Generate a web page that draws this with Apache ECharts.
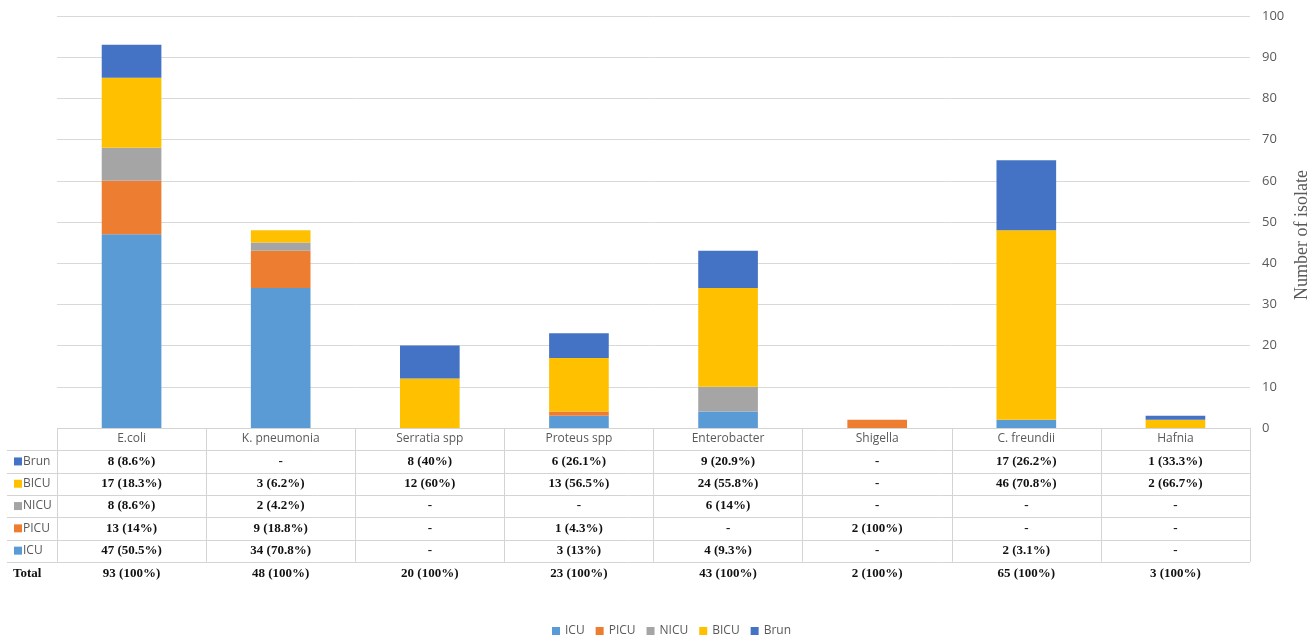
<!DOCTYPE html>
<html>
<head>
<meta charset="utf-8">
<script src="https://cdn.jsdelivr.net/npm/echarts@6/dist/echarts.min.js"></script>
<style>
  html, body { margin: 0; padding: 0; background: #fff; }
  #chart { width: 1315px; height: 638px; }
</style>
</head>
<body>
<div id="chart"></div>
<script>
// Isolates per organism, split by ward
const categories = ['E.coli', 'K. pneumonia', 'Serratia spp', 'Proteus spp', 'Enterobacter', 'Shigella', 'C. freundii', 'Hafnia'];
const icu  = [47, 34, 0, 3, 4, 0, 2, 0];
const picu = [13, 9, 0, 1, 0, 2, 0, 0];
const nicu = [8, 2, 0, 0, 6, 0, 0, 0];
const bicu = [17, 3, 12, 13, 24, 0, 46, 2];
const brun = [8, 0, 8, 6, 9, 0, 17, 1];
const totals = [93, 48, 20, 23, 43, 2, 65, 3];

// Share of each organism's total (%), as printed in the table
const icuPct  = ['50.5', '70.8', null, '13', '9.3', null, '3.1', null];
const picuPct = ['14', '18.8', null, '4.3', null, '100', null, null];
const nicuPct = ['8.6', '4.2', null, null, '14', null, null, null];
const bicuPct = ['18.3', '6.2', '60', '56.5', '55.8', null, '70.8', '66.7'];
const brunPct = ['8.6', null, '40', '26.1', '20.9', null, '26.2', '33.3'];

const wardNames = ['ICU', 'PICU', 'NICU', 'BICU', 'Brun'];
const colors = {ICU: '#5B9BD5', PICU: '#ED7D31', NICU: '#A5A5A5', BICU: '#FFC000', Brun: '#4472C4'};

const GRID = {left: 57, right: 65, top: 16, bottom: 210};
const ROW_H = 22.3;
const TABLE_TOP = 638 - GRID.bottom;
const LINE_COLOR = '#d4d4d4';
const TEXT_GRAY = '#595959';

const chart = echarts.init(document.getElementById('chart'), null, {renderer: 'canvas'});

function barSeries(name, data) {
  return {
    name: name,
    type: 'bar',
    stack: 'total',
    data: data,
    barWidth: '40%',
    itemStyle: {color: colors[name]},
    emphasis: {disabled: true}
  };
}

chart.setOption({
  animation: false,
  backgroundColor: '#ffffff',
  grid: {left: GRID.left, right: GRID.right, top: GRID.top, bottom: GRID.bottom, containLabel: false},
  legend: {
    top: 620,
    left: 547,
    itemWidth: 8,
    itemHeight: 8,
    itemGap: 11,
    icon: 'rect',
    data: wardNames,
    textStyle: {color: TEXT_GRAY, fontSize: 12, fontFamily: 'Open Sans'}
  },
  xAxis: {
    type: 'category',
    data: categories,
    boundaryGap: true,
    axisLine: {show: false},
    axisTick: {show: true, interval: 0, length: ROW_H * 6, lineStyle: {color: LINE_COLOR}},
    axisLabel: {
      interval: 0,
      margin: 11,
      verticalAlign: 'middle',
      color: TEXT_GRAY,
      fontSize: 12,
      fontFamily: 'Open Sans'
    }
  },
  yAxis: {
    type: 'value',
    position: 'right',
    min: 0,
    max: 100,
    interval: 10,
    axisLine: {show: false},
    axisTick: {show: false},
    axisLabel: {margin: 12, color: TEXT_GRAY, fontSize: 13, fontFamily: 'Open Sans'},
    splitLine: {lineStyle: {color: '#d9d9d9'}}
  },
  series: [
    barSeries('ICU', icu),
    barSeries('PICU', picu),
    barSeries('NICU', nicu),
    barSeries('BICU', bicu),
    barSeries('Brun', brun)
  ]
});

// Data table below the plot: one row per ward plus a total row
function cellText(v, p) {
  return v ? v + ' (' + p + '%)' : '-';
}

const rows = [
  {name: 'Brun', vals: brun, pct: brunPct},
  {name: 'BICU', vals: bicu, pct: bicuPct},
  {name: 'NICU', vals: nicu, pct: nicuPct},
  {name: 'PICU', vals: picu, pct: picuPct},
  {name: 'ICU', vals: icu, pct: icuPct}
];

const W = 1315;
const tableRight = W - GRID.right;
const tableLeftKey = 7;
const elements = [];

function hline(x1, x2, y) {
  elements.push({
    type: 'line', silent: true,
    shape: {x1: x1, y1: Math.round(y) + 0.5, x2: x2, y2: Math.round(y) + 0.5},
    style: {stroke: LINE_COLOR, lineWidth: 1}
  });
}

hline(GRID.left, tableRight, TABLE_TOP);
for (let r = 1; r <= 6; r++) hline(tableLeftKey, tableRight, TABLE_TOP + r * ROW_H);

const valueFont = 'bold 13px "Liberation Serif"';

rows.forEach(function (row, r) {
  const cy = TABLE_TOP + (r + 1.5) * ROW_H;
  elements.push({
    type: 'rect', silent: true,
    shape: {x: 14, y: cy - 4, width: 8, height: 8},
    style: {fill: colors[row.name]}
  });
  elements.push({
    type: 'text', silent: true,
    x: 23, y: cy,
    style: {text: row.name, font: '12px "Open Sans"', fill: TEXT_GRAY, verticalAlign: 'middle', align: 'left'}
  });
  categories.forEach(function (c, i) {
    const cx = chart.convertToPixel({xAxisIndex: 0}, c);
    elements.push({
      type: 'text', silent: true,
      x: cx, y: cy,
      style: {text: cellText(row.vals[i], row.pct[i]), font: valueFont, fill: '#111', align: 'center', verticalAlign: 'middle'}
    });
  });
});

const totalY = TABLE_TOP + 6 * ROW_H + 12;
elements.push({
  type: 'text', silent: true,
  x: 13, y: totalY,
  style: {text: 'Total', font: valueFont, fill: '#111', align: 'left', verticalAlign: 'middle'}
});
categories.forEach(function (c, i) {
  const cx = chart.convertToPixel({xAxisIndex: 0}, c);
  elements.push({
    type: 'text', silent: true,
    x: cx, y: totalY,
    style: {text: totals[i] + ' (100%)', font: valueFont, fill: '#111', align: 'center', verticalAlign: 'middle'}
  });
});

// Value-axis title, rotated to read bottom-to-top beside the tick labels
elements.push({
  type: 'text', silent: true,
  x: 1302, y: 235,
  rotation: Math.PI / 2,
  style: {text: 'Number of isolate', font: '18px "Liberation Serif"', fill: TEXT_GRAY, align: 'center', verticalAlign: 'middle'}
});

chart.setOption({graphic: {elements: elements}});
</script>
</body>
</html>
